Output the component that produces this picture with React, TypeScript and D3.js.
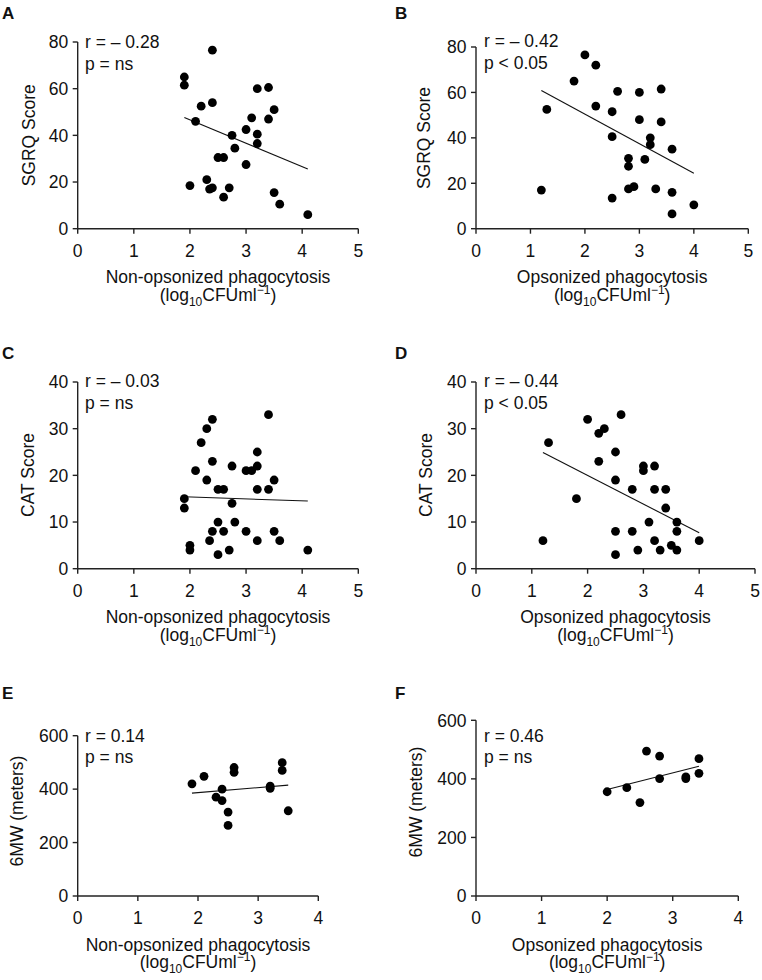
import React from 'react';
import * as d3 from 'd3';

const FONT = '"Liberation Sans", Arial, Helvetica, sans-serif';

// ---- Data ----
const A_x = [1.9, 1.9, 2.4, 2.2, 2.4, 2.1, 2.0, 2.3, 2.35, 2.4, 2.5, 2.6, 2.6, 2.7, 2.75, 2.8, 3.0, 3.0, 3.1, 3.2, 3.2, 3.2, 3.4, 3.4, 3.5, 3.5, 3.6, 4.1];
const A_y = [65, 61.5, 76.5, 52.5, 54, 46, 18.5, 21, 17, 17.5, 30.5, 30.5, 13.5, 17.5, 40, 34.5, 42.5, 27.5, 47.5, 60, 40.5, 36.5, 60.5, 47, 51, 15.5, 10.5, 6];
const A_fit = [[1.9, 47.6], [4.1, 25.6]];

const B_x = [1.2, 1.3, 1.8, 2.0, 2.2, 2.2, 2.5, 2.5, 2.5, 2.6, 2.8, 2.8, 2.8, 2.9, 3.0, 3.0, 3.1, 3.2, 3.2, 3.3, 3.4, 3.4, 3.6, 3.6, 3.6, 4.0];
const B_y = [17, 52.5, 65, 76.5, 72, 54, 51.5, 40.5, 13.5, 60.5, 31, 27.5, 17.5, 18.5, 60, 48, 30.5, 40, 37, 17.5, 61.5, 47, 35, 16, 6.5, 10.5];
const B_fit = [[1.2, 60.8], [4.0, 24.4]];

const C_x = [1.9, 1.9, 2.0, 2.0, 2.1, 2.2, 2.3, 2.3, 2.35, 2.4, 2.4, 2.4, 2.5, 2.5, 2.5, 2.6, 2.6, 2.7, 2.75, 2.75, 2.8, 3.0, 3.0, 3.1, 3.2, 3.2, 3.2, 3.2, 3.4, 3.4, 3.5, 3.5, 3.6, 4.1];
const C_y = [15, 13, 5, 4, 21, 27, 30, 19, 6, 32, 23, 8, 17, 10, 3, 17, 8, 4, 22, 14, 10, 21, 8, 21, 25, 22, 17, 6, 33, 17, 19, 8, 6, 4];
const C_fit = [[1.9, 15.4], [4.1, 14.5]];

const D_x = [1.2, 1.3, 1.8, 2.0, 2.2, 2.3, 2.2, 2.5, 2.5, 2.5, 2.5, 2.6, 2.8, 2.8, 2.9, 3.0, 3.0, 3.1, 3.2, 3.2, 3.2, 3.3, 3.4, 3.4, 3.5, 3.6, 3.6, 3.6, 4.0];
const D_y = [6, 27, 15, 32, 29, 30, 23, 25, 19, 8, 3, 33, 17, 8, 4, 22, 21, 10, 22, 17, 6, 4, 17, 13, 5, 10, 8, 4, 6];
const D_fit = [[1.2, 24.9], [4.0, 7.7]];

const E_x = [1.9, 2.1, 2.3, 2.4, 2.4, 2.5, 2.5, 2.6, 2.6, 3.2, 3.2, 3.4, 3.4, 3.5];
const E_y = [420, 448, 370, 400, 357, 314, 264, 481, 463, 411, 403, 499, 470, 319];
const E_fit = [[1.9, 385], [3.5, 415]];

const F_x = [2.0, 2.3, 2.5, 2.6, 2.8, 2.8, 3.2, 3.2, 3.4, 3.4];
const F_y = [356, 370, 319, 495, 478, 401, 407, 401, 469, 419];
const F_fit = [[2.0, 364], [3.4, 443]];

const ticks5 = [0, 1, 2, 3, 4, 5];
const ticks4 = [0, 1, 2, 3, 4];
const sgrqTicks = [0, 20, 40, 60, 80];
const catTicks = [0, 10, 20, 30, 40];
const mwTicks = [0, 200, 400, 600];

const panels = [
  { label: 'A', xs: A_x, ys: A_y, fit: A_fit, xTicks: ticks5, yTicks: sgrqTicks, yTitle: 'SGRQ Score', xTitle: 'Non-opsonized phagocytosis', r: 'r = – 0.28', p: 'p = ns' },
  { label: 'B', xs: B_x, ys: B_y, fit: B_fit, xTicks: ticks5, yTicks: sgrqTicks, yTitle: 'SGRQ Score', xTitle: 'Opsonized phagocytosis', r: 'r = – 0.42', p: 'p < 0.05' },
  { label: 'C', xs: C_x, ys: C_y, fit: C_fit, xTicks: ticks5, yTicks: catTicks, yTitle: 'CAT Score', xTitle: 'Non-opsonized phagocytosis', r: 'r = – 0.03', p: 'p = ns' },
  { label: 'D', xs: D_x, ys: D_y, fit: D_fit, xTicks: ticks5, yTicks: catTicks, yTitle: 'CAT Score', xTitle: 'Opsonized phagocytosis', r: 'r = – 0.44', p: 'p < 0.05' },
  { label: 'E', xs: E_x, ys: E_y, fit: E_fit, xTicks: ticks4, yTicks: mwTicks, yTitle: '6MW (meters)', xTitle: 'Non-opsonized phagocytosis', r: 'r = 0.14', p: 'p = ns' },
  { label: 'F', xs: F_x, ys: F_y, fit: F_fit, xTicks: ticks4, yTicks: mwTicks, yTitle: '6MW (meters)', xTitle: 'Opsonized phagocytosis', r: 'r = 0.46', p: 'p = ns' },
];

// ---- Layout ----
const layouts = [
  { x0: 77.7, x1: 358.3, yb: 228.7, yt: 42, lx: 2, ly: 19.3, ytx: 34.5, yty: 135.3, ax: 85, ay: 48.3 },
  { x0: 476, x1: 748.3, yb: 228.7, yt: 47, lx: 395, ly: 19.3, ytx: 430, yty: 138, ax: 484, ay: 47.3 },
  { x0: 77.7, x1: 358.3, yb: 568.7, yt: 382, lx: 2, ly: 358.5, ytx: 34, yty: 475, ax: 85, ay: 387.3 },
  { x0: 476, x1: 755, yb: 568.7, yt: 382, lx: 395, ly: 358.5, ytx: 431.7, yty: 475, ax: 484, ay: 387.3 },
  { x0: 77.7, x1: 318.3, yb: 896, yt: 735.7, lx: 2, ly: 699.3, ytx: 23.3, yty: 811, ax: 85, ay: 741.7 },
  { x0: 476, x1: 738.3, yb: 896, yt: 720.3, lx: 395, ly: 699.3, ytx: 421.7, yty: 802, ax: 484, ay: 741.7 },
];

const AXIS = '#222';
const FS = 17.5;

function Panel({ d, L }: any) {
  const x = d3.scaleLinear().domain([0, d.xTicks[d.xTicks.length - 1]]).range([L.x0, L.x1]);
  const y = d3.scaleLinear().domain([0, d.yTicks[d.yTicks.length - 1]]).range([L.yb, L.yt]);
  const line = d3.line<number[]>().x((p) => x(p[0])).y((p) => y(p[1]));
  const pts = d.xs.map((v: number, i: number) => [v, d.ys[i]]);
  const xc = (L.x0 + L.x1) / 2;
  return (
    <g fontFamily={FONT} fill="#111">
      <text x={L.lx} y={L.ly} fontSize={17} fontWeight="bold">{d.label}</text>
      {/* axes */}
      <line x1={L.x0} x2={L.x1} y1={L.yb} y2={L.yb} stroke={AXIS} strokeWidth={1.4} />
      <line x1={L.x0} x2={L.x0} y1={L.yb} y2={L.yt} stroke={AXIS} strokeWidth={1.4} />
      {d.xTicks.map((t: number) => (
        <g key={'x' + t}>
          <line x1={x(t)} x2={x(t)} y1={L.yb} y2={L.yb + 5} stroke={AXIS} strokeWidth={1.4} />
          <text x={x(t)} y={L.yb + 28} fontSize={FS} textAnchor="middle">{t}</text>
        </g>
      ))}
      {d.yTicks.map((t: number) => (
        <g key={'y' + t}>
          <line x1={L.x0 - 5} x2={L.x0} y1={y(t)} y2={y(t)} stroke={AXIS} strokeWidth={1.4} />
          <text x={L.x0 - 9.5} y={y(t)} dy="0.36em" fontSize={FS} textAnchor="end">{t}</text>
        </g>
      ))}
      {/* titles */}
      <text transform={`translate(${L.ytx},${L.yty}) rotate(-90)`} fontSize={FS} textAnchor="middle">{d.yTitle}</text>
      <text x={xc} y={L.yb + 54.6} fontSize={FS} textAnchor="middle">{d.xTitle}</text>
      <text x={xc} y={L.yb + 72} fontSize={FS} textAnchor="middle">
        (log<tspan dy="5" fontSize={12}>10</tspan><tspan dy="-5">CFUml</tspan><tspan dy="-7" fontSize={12}>−1</tspan><tspan dy="7">)</tspan>
      </text>
      {/* annotation */}
      <text x={L.ax} y={L.ay} fontSize={FS}>{d.r}</text>
      <text x={L.ax} y={L.ay + 21.7} fontSize={FS}>{d.p}</text>
      {/* fit line */}
      <path d={line(d.fit) || ''} stroke="#111" strokeWidth={1.1} fill="none" />
      {/* points */}
      {pts.map((p: number[], i: number) => (
        <circle key={i} cx={x(p[0])} cy={y(p[1])} r={4.4} fill="#000" />
      ))}
    </g>
  );
}

export default function App() {
  return (
    <svg width={762} height={980} style={{ position: 'absolute', left: 0, top: 0, display: 'block', background: '#fff' }}>
      <rect width={762} height={980} fill="#fff" />
      {panels.map((d, i) => (
        <Panel key={d.label} d={d} L={layouts[i]} />
      ))}
    </svg>
  );
}
